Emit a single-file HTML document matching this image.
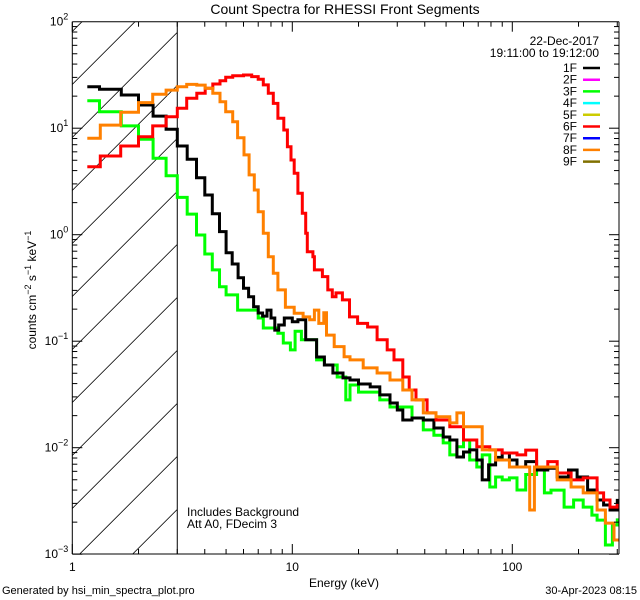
<!DOCTYPE html>
<html><head><meta charset="utf-8"><style>
html,body{margin:0;padding:0;background:#fff}
svg{display:block;font-family:"Liberation Sans",sans-serif}
</style></head><body>
<svg id="chart" width="640" height="600" viewBox="0 0 640 600" xmlns="http://www.w3.org/2000/svg">
<rect width="640" height="600" fill="#fff"/>
<text x="345" y="14" font-size="14" text-anchor="middle">Count Spectra for RHESSI Front Segments</text>
<g id="hatch"></g>
<g id="series"></g>
<g id="axes"></g>
<text transform="translate(36,290) rotate(-90)" font-size="12" text-anchor="middle">counts cm<tspan font-size="9" dy="-5">−2</tspan><tspan dy="5"> s</tspan><tspan font-size="9" dy="-5">−1</tspan><tspan dy="5"> keV</tspan><tspan font-size="9" dy="-5">−1</tspan></text>
<text x="344" y="587" font-size="12" text-anchor="middle">Energy (keV)</text>
<text x="187" y="516" font-size="12">Includes Background</text>
<text x="187" y="528" font-size="12">Att A0, FDecim 3</text>
<text x="2" y="594" font-size="11">Generated by hsi_min_spectra_plot.pro</text>
<text x="637" y="594" font-size="11" text-anchor="end">30-Apr-2023 08:15</text>
<g id="legend">
<text x="599" y="45" font-size="12" text-anchor="end">22-Dec-2017</text>
<text x="599" y="57" font-size="12" text-anchor="end">19:11:00 to 19:12:00</text>
</g>
</svg>
<script>
const ns="http://www.w3.org/2000/svg";
const legendLabels=["1F","2F","3F","4F","5F","6F","7F","8F","9F"];
const legendColors=["#000000","#ff00ff","#00ff00","#00ffff","#cccc00","#ff0000","#0000ff","#ff8000","#807000"];
const xTickLabels=["1","10","100"];
const xTickValues=[1,10,100];
const yTickExps=[-3,-2,-1,0,1,2];

const blackE=[1.17,1.33,1.67,2,2.33,2.67,3,3.33,3.67,4,4.33,4.67,5,5.33,5.67,6,6.33,6.67,7,7.33,7.67,8,8.33,8.67,9.2,10,10.6,11.5,12.9,14,15.3,17,18.3,20,22.6,25,27.8,30,31.8,35,39.4,44,48.5,52,56,60,64,69,73,78,84,90,97,105,115,129,145,160,180,197,220,243,260,278,300];
const blackV=[24.5,23.2,20.5,16.5,13.0,9.77,6.8,5.1,3.43,2.36,1.57,1.07,0.678,0.531,0.394,0.314,0.262,0.211,0.184,0.172,0.196,0.165,0.127,0.142,0.165,0.152,0.159,0.103,0.0711,0.0598,0.0503,0.0452,0.0432,0.0396,0.0372,0.0313,0.0263,0.0226,0.0182,0.019,0.0182,0.0153,0.0126,0.0118,0.00818,0.00912,0.00953,0.00767,0.00498,0.00689,0.0081,0.00891,0.00767,0.00659,0.0074,0.00618,0.0064,0.00531,0.00618,0.00531,0.00401,0.00323,0.0029,0.0026,0.0032];
const greenE=[1.17,1.33,1.67,2,2.33,2.67,3,3.33,3.67,4,4.33,4.67,5,5.64,7.0,7.38,8.6,9.1,9.8,10.3,11,12.9,14,16,17.5,18.3,20,22.6,25,27.8,31.8,35,39.4,44,48.5,52,56,60,64,69,73,79,84,90,97,105,115,129,140,150,172,190,210,230,243,265,285,300];
const greenV=[18.1,14.3,10.5,7.87,5.22,3.58,2.24,1.56,0.993,0.659,0.467,0.325,0.272,0.196,0.165,0.133,0.119,0.0962,0.0828,0.124,0.103,0.0667,0.0598,0.0461,0.0281,0.0388,0.0333,0.0333,0.0281,0.0241,0.0241,0.019,0.0147,0.0131,0.0111,0.00855,0.0102,0.0118,0.00767,0.00659,0.00855,0.00428,0.00531,0.00498,0.0052,0.00401,0.0056,0.00618,0.00376,0.004,0.00277,0.00323,0.00277,0.00233,0.00209,0.00122,0.00188,0.0021];
const redE=[1.17,1.34,1.66,2.0,2.32,2.67,3.0,3.31,3.68,4.02,4.35,4.69,4.98,5.36,6.0,6.54,7.0,7.38,7.78,8.2,8.6,9.15,9.5,9.86,10.2,10.6,11.1,11.5,11.7,12.4,12.6,13.7,14.5,15.2,15.8,16.9,18.2,19.8,22,24.3,27,29,31.8,34,36.5,41,45,52,60,69,79,90,105,115,129,145,160,185,210,243,260,278,300];
const redV=[4.35,5.48,6.8,8.32,10.5,12.8,15.4,19.1,21.3,23.7,26.0,27.9,30.1,31.1,31.6,30.5,28.8,25.5,21.3,17.1,12.4,9.62,6.71,5.03,3.78,2.45,1.59,1.03,0.693,0.622,0.467,0.404,0.303,0.262,0.284,0.244,0.169,0.147,0.136,0.103,0.0828,0.0667,0.0461,0.0348,0.0281,0.0212,0.0182,0.0157,0.0118,0.0102,0.00953,0.00891,0.00855,0.0095,0.00659,0.0074,0.00579,0.00498,0.0052,0.00376,0.00323,0.00277,0.0029];
const orangeE=[1.17,1.34,1.66,2.0,2.32,2.67,3.0,3.31,3.68,4.02,4.35,4.69,4.98,5.36,5.64,6.03,6.36,6.72,7.0,7.38,7.78,8.2,8.6,9.3,10.2,11.2,12,12.6,13.2,13.9,14.3,15.5,17.2,18.3,21,24.3,27.8,31.8,35,39.4,45,52,56,60,64,73,84,97,112,120,126,138,160,185,210,243,265,290];
const orangeV=[8.04,10.7,14.1,17.4,20.8,22.8,24.5,25.8,25.4,23.7,21.3,17.7,14.3,11.5,8.14,5.61,3.64,2.63,1.64,1.03,0.622,0.435,0.303,0.208,0.183,0.169,0.159,0.196,0.147,0.185,0.114,0.0889,0.0716,0.0667,0.0561,0.0503,0.0432,0.0348,0.0281,0.0212,0.0195,0.0171,0.0212,0.0157,0.0157,0.00953,0.00767,0.00659,0.00659,0.0026,0.00659,0.00659,0.00498,0.00428,0.00376,0.0026,0.00196,0.00136];

const X0=72.3,X1=619,Y0=21.7,Y1=554,DX=220,DY=106.5,XMAX=Math.pow(10,(X1-X0)/DX);
function xs(e){return X0+DX*Math.log10(e);}
function ys(v){return Y0+DY*(2-Math.log10(v));}

const svg=document.getElementById('chart');
const defs=document.createElementNS(ns,'defs');
defs.innerHTML='<clipPath id="plotclip"><rect x="72.3" y="21.7" width="546.7" height="532.3"/></clipPath><clipPath id="hatchclip"><rect x="72.3" y="21.7" width="104.7" height="532.3"/></clipPath>';
svg.insertBefore(defs,svg.firstChild);

// hatch
const hatch=document.getElementById('hatch');
hatch.setAttribute('clip-path','url(#hatchclip)');
for(let k=-3;k<13;k++){
  const l=document.createElementNS(ns,'line');
  
  
  const x0=135+k*53;
  l.setAttribute('x1',x0);l.setAttribute('y1',21.7);
  l.setAttribute('x2',x0-540);l.setAttribute('y2',561.7);
  l.setAttribute('stroke','#000');l.setAttribute('stroke-width','0.8');
  hatch.appendChild(l);
}
const vline=document.createElementNS(ns,'line');


vline.setAttribute('x1',xs(3));vline.setAttribute('x2',xs(3));
vline.setAttribute('y1',Y0);vline.setAttribute('y2',Y1);
vline.setAttribute('stroke','#000');vline.setAttribute('stroke-width','1');
hatch.parentNode.insertBefore(vline,hatch.nextSibling);

// series
const sg=document.getElementById('series');
sg.setAttribute('clip-path','url(#plotclip)');
function drawSeries(E,V,color,name){
  let d='';
  for(let i=0;i<E.length;i++){
    const xa=xs(E[i]);
    const xb=xs(i+1<E.length?E[i+1]:XMAX);
    const y=ys(V[i]);
    d+=(i===0?'M':'L')+xa.toFixed(1)+','+y.toFixed(1)+'L'+xb.toFixed(1)+','+y.toFixed(1);
  }
  const p=document.createElementNS(ns,'path');
  
  
  p.setAttribute('d',d);p.setAttribute('fill','none');
  p.setAttribute('stroke',color);p.setAttribute('stroke-width','3');
  p.setAttribute('stroke-linejoin','miter');
  sg.appendChild(p);
}
drawSeries(greenE,greenV,'#00ff00','series-3f');
drawSeries(blackE,blackV,'#000000','series-1f');
drawSeries(redE,redV,'#ff0000','series-6f');
drawSeries(orangeE,orangeV,'#ff8000','series-8f');

// axes
const ax=document.getElementById('axes');
function ln(x1,y1,x2,y2,name){
  const l=document.createElementNS(ns,'line');
  
  
  l.setAttribute('x1',x1);l.setAttribute('y1',y1);l.setAttribute('x2',x2);l.setAttribute('y2',y2);
  l.setAttribute('stroke','#000');l.setAttribute('stroke-width','1');
  ax.appendChild(l);
}
ln(X0,Y0,X1,Y0,'plot-frame-top');ln(X0,Y1,X1,Y1,'plot-frame-bottom');
ln(X0,Y0,X0,Y1,'plot-frame-left');ln(X1,Y0,X1,Y1,'plot-frame-right');
for(let dec=1;dec<=100;dec*=10){
  for(let m=1;m<10;m++){
    const e=dec*m; if(e>XMAX) break;
    const x=xs(e), len=m===1?10:5;
    ln(x,Y1,x,Y1-len,'x-tick');ln(x,Y0,x,Y0+len,'x-tick-top');
  }
}
for(let p=-3;p<2;p++){
  for(let m=1;m<10;m++){
    const y=ys(m*Math.pow(10,p)), len=m===1?10:5;
    ln(X0,y,X0+len,y,'y-tick');ln(X1,y,X1-len,y,'y-tick-right');
  }
}
xTickValues.forEach((v,i)=>{
  const t=document.createElementNS(ns,'text');
  
  
  t.setAttribute('x',xs(v));t.setAttribute('y',571);
  t.setAttribute('font-size','12');t.setAttribute('text-anchor','middle');
  t.textContent=xTickLabels[i];ax.appendChild(t);
});
yTickExps.forEach(p=>{
  const t=document.createElementNS(ns,'text');
  
  
  t.setAttribute('x',X0-4);t.setAttribute('y',ys(Math.pow(10,p))+4);
  t.setAttribute('font-size','12');t.setAttribute('text-anchor','end');
  t.innerHTML='10<tspan font-size="9" dy="-6">'+(p<0?'−'+(-p):p)+'</tspan>';
  ax.appendChild(t);
});

// legend
const lg=document.getElementById('legend');
legendLabels.forEach((lab,i)=>{
  const y=68+i*11.7;
  const t=document.createElementNS(ns,'text');
  
  
  t.setAttribute('x',577);t.setAttribute('y',y+4);
  t.setAttribute('font-size','12');t.setAttribute('text-anchor','end');
  t.textContent=lab;lg.appendChild(t);
  const l=document.createElementNS(ns,'line');
  
  
  l.setAttribute('x1',583);l.setAttribute('x2',600);l.setAttribute('y1',y);l.setAttribute('y2',y);
  l.setAttribute('stroke',legendColors[i]);l.setAttribute('stroke-width','2.5');
  lg.appendChild(l);
});
</script>
</body></html>
